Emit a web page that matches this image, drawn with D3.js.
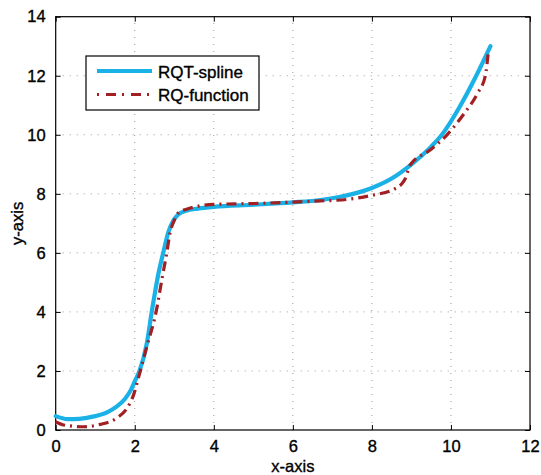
<!DOCTYPE html>
<html>
<head>
<meta charset="utf-8">
<script src="https://cdn.jsdelivr.net/npm/d3@7"></script>
<style>
  body { margin: 0; background: #fff; }
  svg { display: block; }
  text { font-family: "Liberation Sans", Arial, sans-serif; fill: #000; stroke: #000; stroke-width: 0.35px; }
</style>
</head>
<body>
<svg id="chart" width="541" height="475"></svg>
<script>
// ---- data ----
const xTicks = [0, 2, 4, 6, 8, 10, 12];
const yTicks = [0, 2, 4, 6, 8, 10, 12, 14];
const seriesNames = ["RQT-spline", "RQ-function"];

const splineX = [0, 0.3, 0.6, 1.0, 1.3, 1.54, 1.75, 1.9, 2.0, 2.12, 2.3, 2.43, 2.6, 2.72, 2.85, 2.98, 3.1, 3.3, 3.6, 4.0, 5.0, 6.0, 6.7, 7.2, 7.5, 8.0, 8.5, 9.0, 9.5, 9.77, 10.2, 10.64, 11.0];
const splineY = [0.47, 0.37, 0.38, 0.47, 0.6, 0.79, 1.05, 1.35, 1.65, 2.0, 2.9, 4.0, 5.3, 6.0, 6.7, 7.1, 7.3, 7.43, 7.5, 7.56, 7.63, 7.71, 7.79, 7.9, 7.99, 8.2, 8.52, 9.0, 9.6, 10.0, 10.9, 12.0, 13.0];

const funcX = [0, 0.2, 0.7, 1.12, 1.54, 1.8, 1.97, 2.09, 2.3, 2.54, 2.7, 2.81, 2.89, 3.0, 3.1, 3.31, 4.0, 5.26, 6.0, 6.7, 7.37, 8.04, 8.55, 8.75, 8.84, 8.97, 9.48, 9.9, 10.34, 10.67, 10.87, 10.95];
const funcY = [0.28, 0.17, 0.11, 0.19, 0.4, 0.73, 1.19, 1.75, 2.8, 4.0, 5.2, 6.0, 6.66, 7.1, 7.35, 7.48, 7.64, 7.68, 7.72, 7.76, 7.81, 7.96, 8.15, 8.33, 8.5, 8.98, 9.49, 10.0, 10.73, 11.4, 12.0, 12.87];

// ---- layout ----
const svg = d3.select("#chart");
const L = 55.7, R = 530, T = 16.7, B = 430;
const x = d3.scaleLinear().domain([0, 12]).range([L, R]);
const y = d3.scaleLinear().domain([0, 14]).range([B, T]);

// grid
const grid = svg.append("g");
grid.selectAll(".gx").data(xTicks.slice(1, -1)).join("line")
  .attr("x1", d => x(d)).attr("x2", d => x(d)).attr("y1", B).attr("y2", T)
  .attr("stroke", "#9a9a9a").attr("stroke-width", 1).attr("stroke-dasharray", "1,6");
grid.selectAll(".gy").data(yTicks.slice(1, -1)).join("line")
  .attr("y1", d => y(d)).attr("y2", d => y(d)).attr("x1", L).attr("x2", R)
  .attr("stroke", "#9a9a9a").attr("stroke-width", 1).attr("stroke-dasharray", "1,6");

// axes
const fs = 16.5;
const xAxisB = d3.axisBottom(x).tickValues(xTicks).tickSizeInner(-5).tickSizeOuter(0).tickPadding(10);
const xAxisT = d3.axisTop(x).tickValues(xTicks).tickSizeInner(-5).tickSizeOuter(0).tickFormat("");
const yAxisL = d3.axisLeft(y).tickValues(yTicks).tickSizeInner(-5).tickSizeOuter(0).tickPadding(10);
const yAxisR = d3.axisRight(y).tickValues(yTicks).tickSizeInner(-5).tickSizeOuter(0).tickFormat("");

function styleAxis(g) {
  g.select(".domain").remove();
  g.selectAll("line").attr("stroke", "#000");
  g.selectAll("text").attr("font-size", fs).attr("font-family", "Liberation Sans, Arial, sans-serif").attr("fill", "#000");
}
svg.append("g").attr("transform", `translate(0,${B})`).call(xAxisB).call(styleAxis);
svg.append("g").attr("transform", `translate(0,${T})`).call(xAxisT).call(styleAxis);
svg.append("g").attr("transform", `translate(${L},0)`).call(yAxisL).call(styleAxis);
svg.append("g").attr("transform", `translate(${R},0)`).call(yAxisR).call(styleAxis);

// box
svg.append("rect").attr("x", L).attr("y", T).attr("width", R - L).attr("height", B - T)
  .attr("fill", "none").attr("stroke", "#000").attr("stroke-width", 1.2);

// lines
const line = d3.line().x(d => x(d[0])).y(d => y(d[1])).curve(d3.curveMonotoneX);
const splineData = splineX.map((v, i) => [v, splineY[i]]);
const funcData = funcX.map((v, i) => [v, funcY[i]]);

svg.append("path").datum(splineData).attr("d", line)
  .attr("fill", "none").attr("stroke", "#1ab2e6").attr("stroke-width", 4.2).attr("stroke-linecap", "round");
svg.append("path").datum(funcData).attr("d", line)
  .attr("fill", "none").attr("stroke", "#a21f23").attr("stroke-width", 3.2)
  .attr("stroke-dasharray", "10,5,2,5");

// axis labels
svg.append("text").attr("x", (L + R) / 2).attr("y", 472).attr("text-anchor", "middle")
  .attr("font-size", 16.5).text("x-axis");
svg.append("text").attr("transform", `translate(23,${(T + B) / 2}) rotate(-90)`).attr("text-anchor", "middle")
  .attr("font-size", 16.5).text("y-axis");

// legend
const lg = svg.append("g");
lg.append("rect").attr("x", 86).attr("y", 56).attr("width", 173).attr("height", 54)
  .attr("fill", "#fff").attr("stroke", "#000").attr("stroke-width", 1.2);
lg.append("line").attr("x1", 97).attr("x2", 152).attr("y1", 71).attr("y2", 71)
  .attr("stroke", "#1ab2e6").attr("stroke-width", 4.2);
lg.append("line").attr("x1", 97).attr("x2", 152).attr("y1", 94.5).attr("y2", 94.5)
  .attr("stroke", "#a21f23").attr("stroke-width", 3.2).attr("stroke-dasharray", "2,7,10,6,2,7,10,6");
lg.append("text").attr("x", 158).attr("y", 77.5).attr("font-size", 17).text(seriesNames[0]);
lg.append("text").attr("x", 158).attr("y", 101).attr("font-size", 17).text(seriesNames[1]);
</script>
</body>
</html>
